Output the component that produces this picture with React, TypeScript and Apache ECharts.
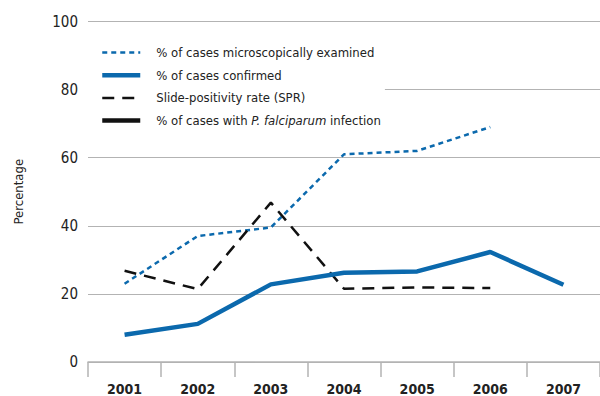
import React, { useEffect, useRef } from "react";
import * as echarts from "echarts";

const years = ["2001", "2002", "2003", "2004", "2005", "2006", "2007"];
const examined = [23, 37, 39.5, 61, 62, 69, null];
const confirmed = [8, 11.2, 22.8, 26.2, 26.6, 32.3, 22.7];
const spr = [26.8, 21.4, 46.8, 21.5, 21.9, 21.7, null];
const falciparum: (number | null)[] = [];
const yTicks = { min: 0, max: 100, interval: 20 };

const FONT = "'DejaVu Sans Condensed', 'Liberation Sans', sans-serif";
const BLUE = "#0b69ad";
const BLACK = "#111111";

const NAMES = [
  "% of cases microscopically examined",
  "% of cases confirmed",
  "Slide-positivity rate (SPR)",
  "% of cases with P. falciparum infection",
];

// line look for each series (used for both the plot and the legend key)
const STYLES = [
  { color: BLUE, width: 2.5, type: [5, 4] as number[] | string },
  { color: BLUE, width: 4.5, type: "solid" as number[] | string },
  { color: BLACK, width: 2.5, type: [12, 8] as number[] | string },
  { color: BLACK, width: 4.5, type: "solid" as number[] | string },
];

export default function App() {
  const ref = useRef<HTMLDivElement>(null);
  useEffect(() => {
    if (!ref.current) return;
    const chart = echarts.init(ref.current, undefined, { renderer: "svg" });
    const seriesData = [examined, confirmed, spr, falciparum];
    chart.setOption({
      animation: false,
      backgroundColor: "#ffffff",
      grid: { left: 88, top: 21.5, width: 526, height: 341.5, containLabel: false },
      legend: {
        orient: "vertical",
        left: 88,
        top: 39,
        padding: [7, 4, 8, 12],
        backgroundColor: "#ffffff",
        itemWidth: 38,
        itemHeight: 14,
        itemGap: 9.7,
        selectedMode: false,
        itemStyle: { opacity: 0 },
        data: NAMES.map((name, i) => ({
          name,
          itemStyle: { opacity: 0, borderWidth: 0 },
          lineStyle: { color: STYLES[i].color, width: STYLES[i].width, type: STYLES[i].type },
        })),
        textStyle: {
          fontFamily: FONT,
          fontSize: 13,
          color: "#222",
          padding: [0, 0, 0, 11],
          rich: {
            i: { fontFamily: FONT, fontSize: 13, fontStyle: "italic", color: "#222" },
          },
        },
        formatter: (name: string) =>
          name.replace("P. falciparum", "{i|P. falciparum}"),
      },
      xAxis: {
        type: "category",
        data: years,
        boundaryGap: true,
        axisLine: { show: true, lineStyle: { color: "#b3b3b3", width: 1.5 } },
        axisTick: { show: true, length: 15, interval: 0, lineStyle: { color: "#b3b3b3", width: 1.5 } },
        axisLabel: {
          interval: 0,
          margin: 20,
          fontFamily: FONT,
          fontSize: 14,
          fontWeight: "bold",
          color: "#222",
        },
        splitLine: { show: false },
      },
      yAxis: {
        type: "value",
        min: yTicks.min,
        max: yTicks.max,
        interval: yTicks.interval,
        name: "Percentage",
        nameLocation: "middle",
        nameGap: 63,
        nameTextStyle: { fontFamily: FONT, fontSize: 13, color: "#222" },
        axisLine: { show: false },
        axisTick: { show: false },
        axisLabel: { margin: 10, fontFamily: FONT, fontSize: 15, color: "#222" },
        splitLine: { lineStyle: { color: "#b3b3b3", width: 1.2 } },
      },
      series: NAMES.map((name, i) => ({
        name,
        type: "line",
        data: seriesData[i],
        symbol: "none",
        z: i === 1 ? 4 : 3,
        lineStyle: { color: STYLES[i].color, width: STYLES[i].width, type: STYLES[i].type },
        itemStyle: { color: STYLES[i].color },
      })),
    });
    return () => chart.dispose();
  }, []);
  return <div ref={ref} style={{ width: 600, height: 396, position: "absolute", left: 0, top: 0 }} />;
}
